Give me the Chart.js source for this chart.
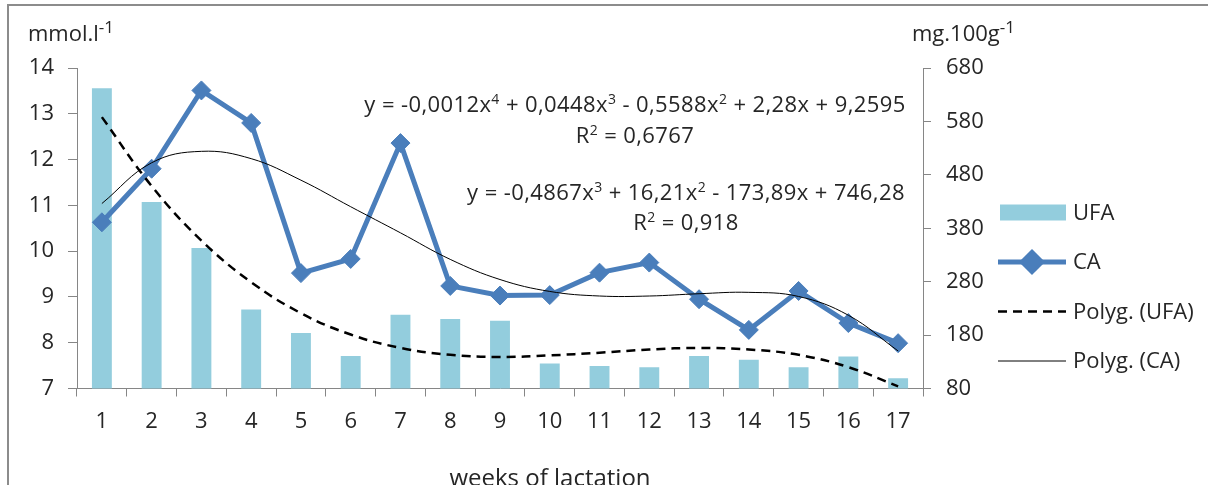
<!DOCTYPE html>
<html>
<head>
<meta charset="utf-8">
<script src="https://cdn.jsdelivr.net/npm/chart.js@4/dist/chart.umd.min.js"></script>
<style>
  html, body { margin: 0; padding: 0; background: #fff; }
</style>
</head>
<body>
<canvas id="chart" width="1208" height="485"></canvas>
<script>
// data
const weeks = ['1', '2', '3', '4', '5', '6', '7', '8', '9', '10', '11', '12', '13', '14', '15', '16', '17'];
// UFA, mg.100g-1 (right axis)
const ufa = [642, 429, 343, 228, 184, 141, 218, 210, 207, 127, 122, 120, 141, 134, 120, 140, 99];
// CA, mmol.l-1 (left axis)
const ca = [10.63, 11.8, 13.51, 12.8, 9.52, 9.83, 12.36, 9.24, 9.03, 9.04, 9.53, 9.75, 8.95, 8.28, 9.13, 8.43, 7.99];
// trend lines as drawn in the picture
const ufaTrend = [588, 459, 357, 279, 221, 181, 156, 143, 139, 142, 147, 153, 156, 153, 143, 120, 84];
const caTrend = [11.04, 11.93, 12.18, 12.02, 11.55, 10.97, 10.4, 9.82, 9.38, 9.12, 9.02, 9.02, 9.07, 9.1, 9.01, 8.6, 7.82];

const leftRange = [7, 14, 1];
const rightRange = [80, 680, 100];

const leftTitle = 'mmol.l^{-1}';
const rightTitle = 'mg.100g^{-1}';
const xTitle = 'weeks of lactation';
const legendLabels = ['UFA', 'CA', 'Polyg. (UFA)', 'Polyg. (CA)'];
const eqCA = ['y = -0,0012x^{4} + 0,0448x^{3} - 0,5588x^{2} + 2,28x + 9,2595', 'R^{2} = 0,6767'];
const eqUFA = ['y = -0,4867x^{3} + 16,21x^{2} - 173,89x + 746,28', 'R^{2} = 0,918'];

const FONT = '"Open Sans", Lato, sans-serif';
const TXT = '#262626';
const AXIS = '#868686';
const FS = 22;

// text with ^{...} superscripts
function drawRich(ctx, str, x, y, size, align, supRatio, spacing) {
  const parts = str.split(/(\^\{[^}]*\})/).filter(Boolean).map(p =>
    p.startsWith('^{') ? { t: p.slice(2, -1), sup: true } : { t: p, sup: false });
  const supSize = Math.round(size * (supRatio || 0.62));
  ctx.letterSpacing = (spacing || 0) + 'px';
  let total = 0;
  parts.forEach(p => {
    ctx.font = (p.sup ? supSize : size) + 'px ' + FONT;
    p.w = ctx.measureText(p.t).width;
    total += p.w;
  });
  let cx = align === 'center' ? x - total / 2 : (align === 'right' ? x - total : x);
  ctx.textAlign = 'left';
  ctx.textBaseline = 'alphabetic';
  parts.forEach(p => {
    ctx.font = (p.sup ? supSize : size) + 'px ' + FONT;
    ctx.fillText(p.t, cx, p.sup ? y - size * 0.36 : y);
    cx += p.w;
  });
  ctx.letterSpacing = '0px';
}

const extras = {
  id: 'extras',
  afterDraw(chart) {
    const ctx = chart.ctx;
    const ds = chart.data.datasets;
    ctx.save();

    // frame (left and top edges)
    ctx.strokeStyle = '#8c8c8c';
    ctx.lineWidth = 2;
    ctx.beginPath();
    ctx.moveTo(8, 485);
    ctx.lineTo(8, 5);
    ctx.lineTo(1208, 5);
    ctx.stroke();

    ctx.fillStyle = TXT;
    drawRich(ctx, leftTitle, 28, 41, FS, 'left', 0.75);
    drawRich(ctx, rightTitle, 912, 41, FS, 'left', 0.75);
    drawRich(ctx, xTitle, 550, 486, 24, 'center');

    drawRich(ctx, eqCA[0], 635, 112, 22, 'center', 0.62, 0.4);
    drawRich(ctx, eqCA[1], 635, 143, 22, 'center', 0.62, 0.4);
    drawRich(ctx, eqUFA[0], 686, 200, 22, 'center', 0.62, 0.4);
    drawRich(ctx, eqUFA[1], 686, 230, 22, 'center', 0.62, 0.4);

    // legend
    const lx0 = 998, lx1 = 1066, tx = 1073;
    const ys = [212.5, 262, 311.5, 361];
    // UFA bar swatch
    ctx.fillStyle = ds[0].backgroundColor;
    ctx.fillRect(1000, ys[0] - 8, 66, 16);
    // CA line + diamond
    ctx.strokeStyle = ds[1].borderColor;
    ctx.lineWidth = ds[1].borderWidth;
    ctx.beginPath();
    ctx.moveTo(lx0, ys[1]);
    ctx.lineTo(lx1, ys[1]);
    ctx.stroke();
    Chart.helpers.drawPoint(ctx, {
      pointStyle: 'rectRot', radius: ds[1].pointRadius, borderWidth: 1
    }, (lx0 + lx1) / 2, ys[1]);
    ctx.fillStyle = ds[1].pointBackgroundColor;
    ctx.fill();
    // trend lines
    ctx.strokeStyle = ds[2].borderColor;
    ctx.lineWidth = ds[2].borderWidth;
    ctx.setLineDash(ds[2].borderDash);
    ctx.beginPath();
    ctx.moveTo(lx0, ys[2]);
    ctx.lineTo(lx1, ys[2]);
    ctx.stroke();
    ctx.setLineDash([]);
    ctx.strokeStyle = ds[3].borderColor;
    ctx.lineWidth = ds[3].borderWidth;
    ctx.beginPath();
    ctx.moveTo(lx0, ys[3]);
    ctx.lineTo(lx1, ys[3]);
    ctx.stroke();

    ctx.fillStyle = TXT;
    ctx.font = FS + 'px ' + FONT;
    ctx.textAlign = 'left';
    ctx.textBaseline = 'middle';
    legendLabels.forEach((t, i) => ctx.fillText(t, tx, ys[i] + 1));
    ctx.restore();
  }
};

const tickFont = { family: FONT, size: FS };

new Chart(document.getElementById('chart'), {
  type: 'bar',
  data: {
    labels: weeks,
    datasets: [
      {
        label: 'UFA',
        data: ufa,
        yAxisID: 'y2',
        backgroundColor: '#93cddd',
        barPercentage: 0.4,
        categoryPercentage: 1,
        order: 4
      },
      {
        type: 'line',
        label: 'CA',
        data: ca,
        yAxisID: 'y',
        borderColor: '#4a7ebb',
        backgroundColor: '#4a7ebb',
        borderWidth: 5,
        pointStyle: 'rectRot',
        pointRadius: 9.5,
        pointBorderWidth: 1,
        pointBackgroundColor: '#4a7ebb',
        pointBorderColor: '#4a7ebb',
        tension: 0,
        order: 3
      },
      {
        type: 'line',
        label: 'Polyg. (UFA)',
        data: ufaTrend,
        yAxisID: 'y2',
        borderColor: '#000000',
        borderWidth: 2.5,
        borderDash: [9, 6],
        pointRadius: 0,
        tension: 0.4,
        order: 2
      },
      {
        type: 'line',
        label: 'Polyg. (CA)',
        data: caTrend,
        yAxisID: 'y',
        borderColor: '#000000',
        borderWidth: 1,
        pointRadius: 0,
        tension: 0.4,
        order: 1
      }
    ]
  },
  options: {
    responsive: false,
    animation: false,
    devicePixelRatio: 1,
    layout: { padding: { top: 68, bottom: 0, left: 0, right: 0 } },
    plugins: { legend: { display: false }, tooltip: { enabled: false } },
    scales: {
      x: {
        offset: true,
        grid: { offset: true, drawOnChartArea: false, tickLength: 8, color: AXIS },
        border: { color: AXIS },
        ticks: { font: tickFont, color: TXT, padding: 12, maxRotation: 0 },
        afterFit: s => { s.height = 96.5; s.paddingLeft = 0; s.paddingRight = 0; }
      },
      y: {
        position: 'left',
        min: leftRange[0], max: leftRange[1],
        ticks: { stepSize: leftRange[2], font: tickFont, color: TXT, padding: 14 },
        grid: { drawOnChartArea: false, tickLength: 9, color: AXIS },
        border: { color: AXIS },
        afterFit: s => { s.width = 77; s.paddingTop = 0; s.paddingBottom = 0; }
      },
      y2: {
        position: 'right',
        min: rightRange[0], max: rightRange[1],
        ticks: { stepSize: rightRange[2], font: tickFont, color: TXT, padding: 15 },
        grid: { drawOnChartArea: false, tickLength: 8, color: AXIS },
        border: { color: AXIS },
        afterFit: s => { s.width = 1208 - 923; s.paddingTop = 0; s.paddingBottom = 0; }
      }
    }
  },
  plugins: [extras]
});
</script>
</body>
</html>
